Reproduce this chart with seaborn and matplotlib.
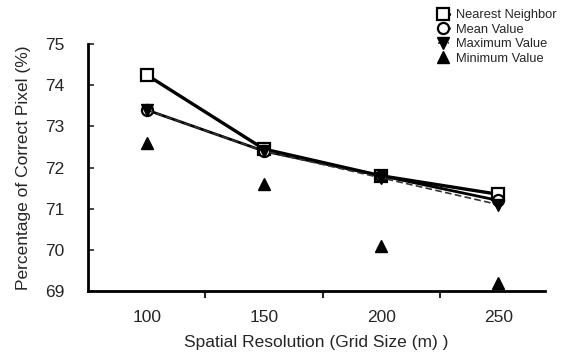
import numpy as np
import pandas as pd
import matplotlib
matplotlib.use("Agg")
import matplotlib.pyplot as plt
import seaborn as sns

# values
grid_sizes = ["100", "150", "200", "250"]
nearest_neighbor = [74.25, 72.45, 71.8, 71.35]
mean_value = [73.4, 72.4, 71.8, 71.2]
maximum_value = [73.4, 72.4, 71.75, 71.1]
minimum_value = [72.6, 71.6, 70.1, 69.2]

series = {
    "Nearest Neighbor": nearest_neighbor,
    "Mean Value": mean_value,
    "Maximum Value": maximum_value,
    "Minimum Value": minimum_value,
}

sns.set_theme(style="ticks")
plt.rcParams["font.family"] = ["Liberation Sans", "DejaVu Sans"]

fig = plt.figure(figsize=(5.61, 3.58), dpi=100)
ax = fig.add_axes([0.157, 0.187, 0.815, 0.69])

xpos = np.arange(len(grid_sizes))

# line / marker style per series
styles = {
    "Nearest Neighbor": dict(marker="s", mfc="white", mec="black", ms=9, mew=1.6,
                             color="black", lw=2.4, ls="-"),
    "Mean Value": dict(marker="o", mfc="white", mec="black", ms=8, mew=1.6,
                       color="black", lw=2.0, ls="-"),
    "Maximum Value": dict(marker="v", mfc="black", mec="black", ms=9,
                          color="#333333", lw=1.2, ls=(0, (4, 2))),
    "Minimum Value": dict(marker="^", mfc="black", mec="black", ms=9,
                          color="black", lw=0, ls="none"),
}

for name, vals in series.items():
    df = pd.DataFrame({"x": xpos, "y": vals})
    st = styles[name]
    sns.lineplot(data=df, x="x", y="y", ax=ax, color=st["color"],
                 linewidth=st["lw"], linestyle=st["ls"], marker=st["marker"],
                 markersize=st["ms"], markerfacecolor=st["mfc"],
                 markeredgecolor=st["mec"], markeredgewidth=st.get("mew", 1.0),
                 label=name, legend=False)

ax.set_xlim(-0.5, 3.4)
ax.set_ylim(69, 75)
ax.set_yticks(range(69, 76))
ax.set_xticks(xpos)
ax.set_xticklabels(grid_sizes)
ax.set_xticks(xpos[:-1] + 0.5, minor=True)
ax.tick_params(axis="x", which="major", length=0, labelsize=12.5, pad=14)
ax.tick_params(axis="x", which="minor", length=5, width=1.5, direction="out")
ax.tick_params(axis="y", length=4, width=1.2, direction="in", labelsize=12.5, pad=17)

for s in ["top", "right"]:
    ax.spines[s].set_visible(False)
for s in ["left", "bottom"]:
    ax.spines[s].set_linewidth(2)
    ax.spines[s].set_color("black")

ax.set_xlabel("Spatial Resolution (Grid Size (m) )", fontsize=12.5, labelpad=7)
ax.set_ylabel("Percentage of Correct Pixel (%)", fontsize=12.5, labelpad=10)

handles, labels = ax.get_legend_handles_labels()
fig.legend(handles, labels, loc="upper left", bbox_to_anchor=(0.765, 1.0),
           frameon=False, fontsize=9.3, handlelength=0.8, handletextpad=0.6,
           labelspacing=0.2, borderaxespad=0.3)

fig.savefig("out.png", dpi=100)
